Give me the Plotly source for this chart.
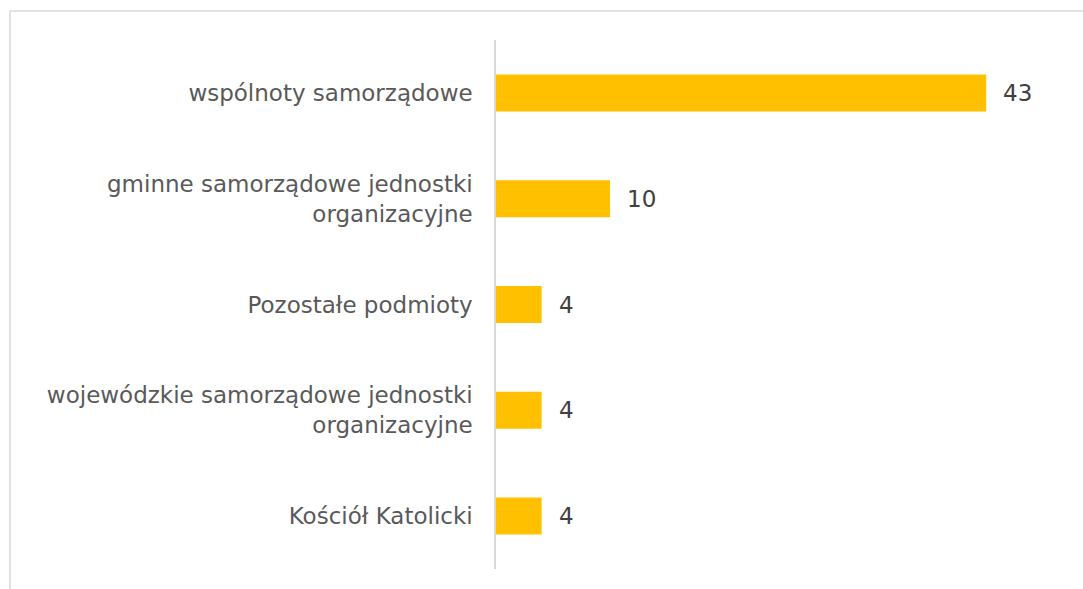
import plotly.graph_objects as go

categories = [
    "Kościół Katolicki",
    "wojewódzkie samorządowe jednostki<br>organizacyjne",
    "Pozostałe podmioty",
    "gminne samorządowe jednostki<br>organizacyjne",
    "wspólnoty samorządowe",
]
values = [4, 4, 4, 10, 43]

W, H = 1083, 589
L, R, T, B = 496, 17, 40, 20
XMAX = 50
pw = W - L - R
ph = H - T - B

def px(x):
    return (x - L) / pw

def py(y):
    return 1 - (y - T) / ph

fig = go.Figure(
    go.Bar(
        y=categories,
        x=values,
        orientation="h",
        marker=dict(color="#FFC000", line=dict(width=0)),
        hoverinfo="skip",
    )
)

for c, v in zip(categories, values):
    fig.add_annotation(
        x=v, y=c, xref="x", yref="y", text=str(v), showarrow=False,
        xanchor="left", xshift=15,
        font=dict(family="DejaVu Sans", size=23, color="#404040"),
    )

border = "#D9D9D9"
fig.add_shape(type="line", xref="paper", yref="paper",
              x0=px(10), x1=px(W + 5), y0=py(11), y1=py(11),
              line=dict(color=border, width=1.5))
fig.add_shape(type="line", xref="paper", yref="paper",
              x0=px(10), x1=px(10), y0=py(11), y1=py(H + 5),
              line=dict(color=border, width=1.5))

fig.update_layout(
    width=W, height=H,
    margin=dict(l=L, r=R, t=T, b=B, autoexpand=False),
    paper_bgcolor="white", plot_bgcolor="white",
    bargap=0.65,
    showlegend=False,
    font=dict(family="DejaVu Sans", size=23, color="#595959"),
    xaxis=dict(range=[0, XMAX], visible=False, showgrid=False, zeroline=False),
    yaxis=dict(
        showline=True, linecolor=border, linewidth=1.5,
        showgrid=False, zeroline=False, ticks="",
        ticklabelstandoff=17,
        tickfont=dict(family="DejaVu Sans", size=23, color="#595959"),
    ),
)

fig.write_html("out.html")
